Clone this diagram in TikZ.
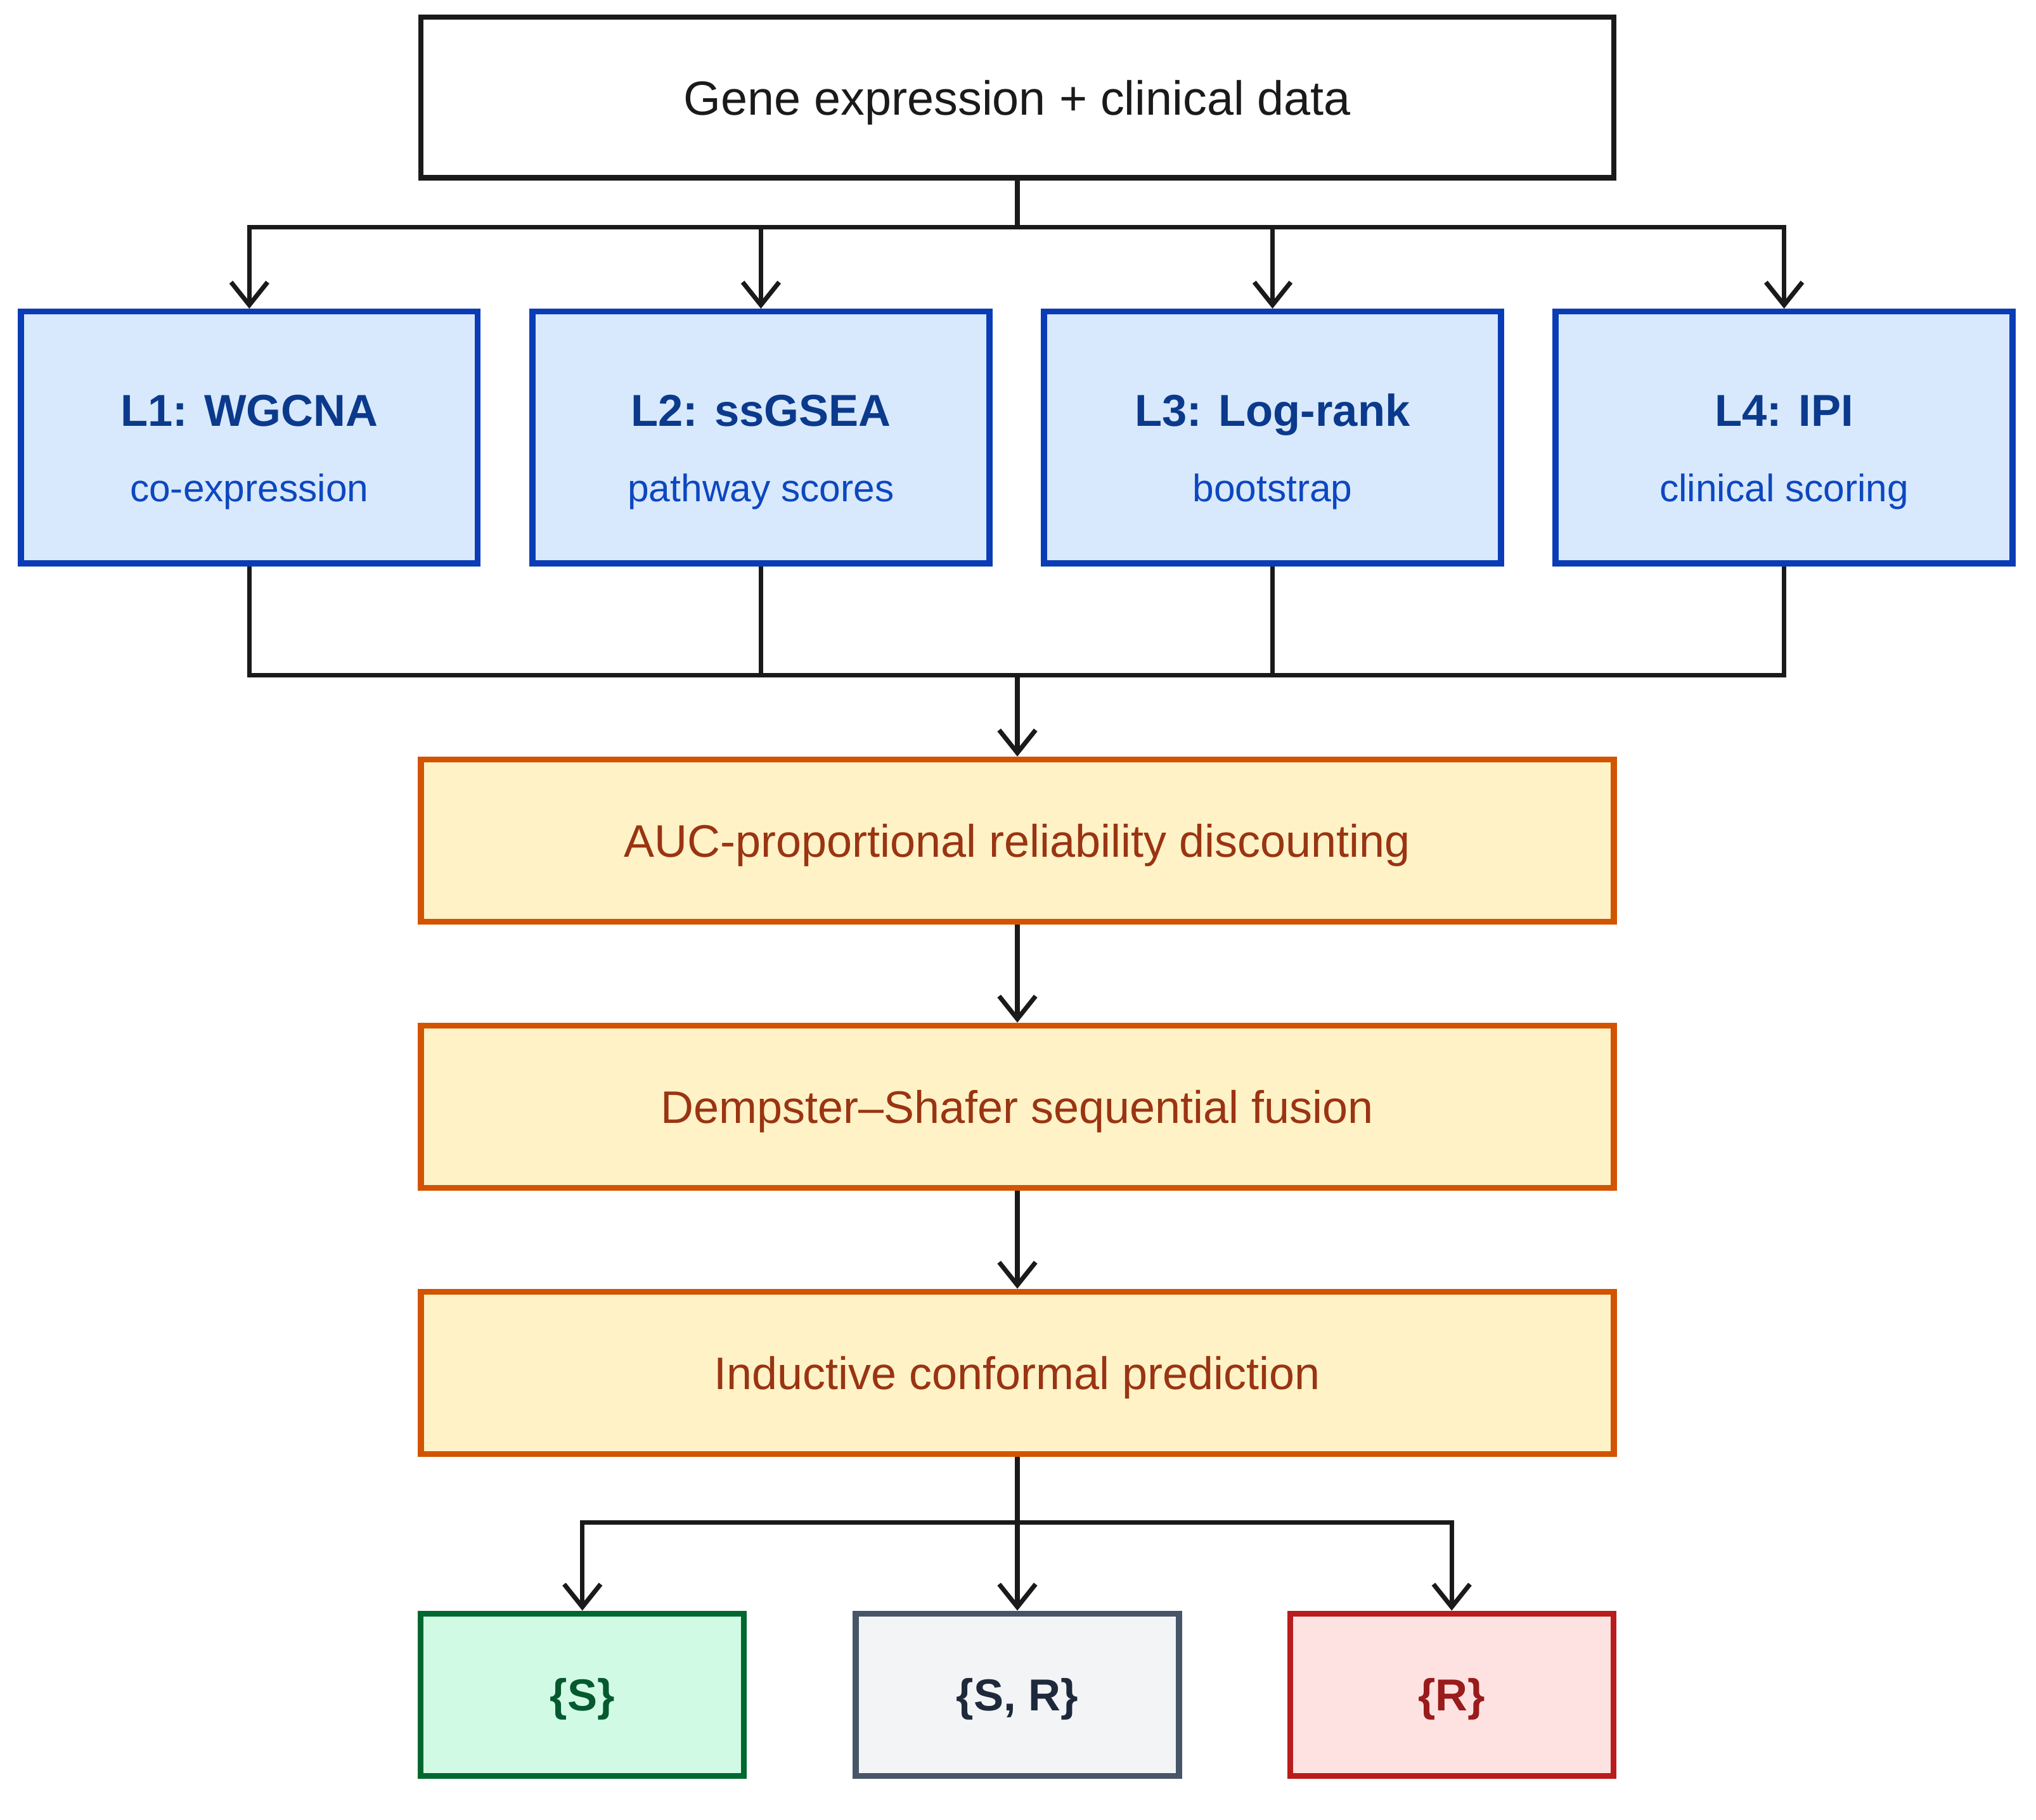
\documentclass[tikz,border=0pt]{standalone}
\usepackage{fontspec}
\setmainfont{Liberation Sans}
\usetikzlibrary{arrows.meta,positioning}

\definecolor{ink}{HTML}{1A1A1A}
\definecolor{layerfill}{HTML}{D8E9FD}
\definecolor{layerdraw}{HTML}{0A3DB5}
\definecolor{layertitle}{HTML}{0B3A8C}
\definecolor{layersub}{HTML}{0D47C0}
\definecolor{stagefill}{HTML}{FEF2C6}
\definecolor{stagedraw}{HTML}{D35400}
\definecolor{stagetext}{HTML}{9A3412}
\definecolor{sfill}{HTML}{D1FAE5}
\definecolor{sdraw}{HTML}{00682F}
\definecolor{stext}{HTML}{05592E}
\definecolor{srfill}{HTML}{F3F4F6}
\definecolor{srdraw}{HTML}{475569}
\definecolor{srtext}{HTML}{1E293B}
\definecolor{rfill}{HTML}{FEE2E2}
\definecolor{rdraw}{HTML}{B91C1C}
\definecolor{rtext}{HTML}{991B1B}

\newcommand{\laytext}[2]{{\fontsize{19.6}{33}\selectfont\bfseries\color{layertitle}\rule{0pt}{23pt}#1}\\{\color{layersub}#2}}

\begin{document}
\begin{tikzpicture}[
  x=0.02cm, y=-0.02cm,
  box/.style={draw, rectangle, line width=2.6pt, inner sep=0pt, align=center, text depth=0pt},
  inbox/.style={box, draw=ink, line width=2.3pt, fill=white, minimum width=18.38cm, minimum height=2.48cm, font=\fontsize{21}{25}\selectfont, text=ink},
  layer/.style={box, draw=layerdraw, fill=layerfill, minimum width=7.04cm, minimum height=3.88cm, font=\fontsize{16.8}{33}\selectfont},
  stage/.style={box, draw=stagedraw, fill=stagefill, minimum width=18.38cm, minimum height=2.5cm, font=\fontsize{20}{24}\selectfont, text=stagetext},
  outset/.style={box, minimum width=4.98cm, minimum height=2.5cm, font=\fontsize{19.6}{24}\selectfont\bfseries},
  arr/.style={-{Straight Barb[length=10pt,width=16pt]}, line width=2pt, draw=ink},
  link/.style={line width=2pt, draw=ink}
]
\useasboundingbox (0,0) rectangle (1568,1402);

% input
\node[inbox] (data) at (783.5,75) {Gene expression + clinical data};

% evidence layers
\node[layer] (l1) at (192,337) {\laytext{L1: WGCNA}{co-expression}};
\node[layer] (l2) at (586,337) {\laytext{L2: ssGSEA}{pathway scores}};
\node[layer] (l3) at (980,337) {\laytext{L3: Log-rank}{bootstrap}};
\node[layer] (l4) at (1374,337) {\laytext{L4: IPI}{clinical scoring}};

% fusion pipeline
\node[stage] (disc) at (783.5,647.5) {AUC-proportional reliability discounting};
\node[stage] (fuse) at (783.5,852.5) {Dempster--Shafer sequential fusion};
\node[stage] (conf) at (783.5,1057.5) {Inductive conformal prediction};

% prediction sets
\node[outset, draw=sdraw, fill=sfill, text=stext] (setS) at (448.5,1305.5) {\{S\}};
\node[outset, draw=srdraw, fill=srfill, text=srtext] (setSR) at (783.5,1305.5) {\{S, R\}};
\node[outset, draw=rdraw, fill=rfill, text=rtext] (setR) at (1118,1305.5) {\{R\}};

\coordinate (split) at (783.5,175);
\coordinate (join) at (783.5,520);
\coordinate (fork) at (783.5,1173);

\draw[link] (data.south) -- (split);
\foreach \n in {l1,l2,l3,l4} {
  \draw[arr] (split) -| (\n.north);
  \draw[link] (\n.south) |- (join);
}
\draw[arr] (join) -- (disc.north);
\draw[arr] (disc.south) -- (fuse.north);
\draw[arr] (fuse.south) -- (conf.north);
\draw[link] (conf.south) -- (fork);
\foreach \n in {setS,setSR,setR}
  \draw[arr] (fork) -| (\n.north);
\end{tikzpicture}
\end{document}
